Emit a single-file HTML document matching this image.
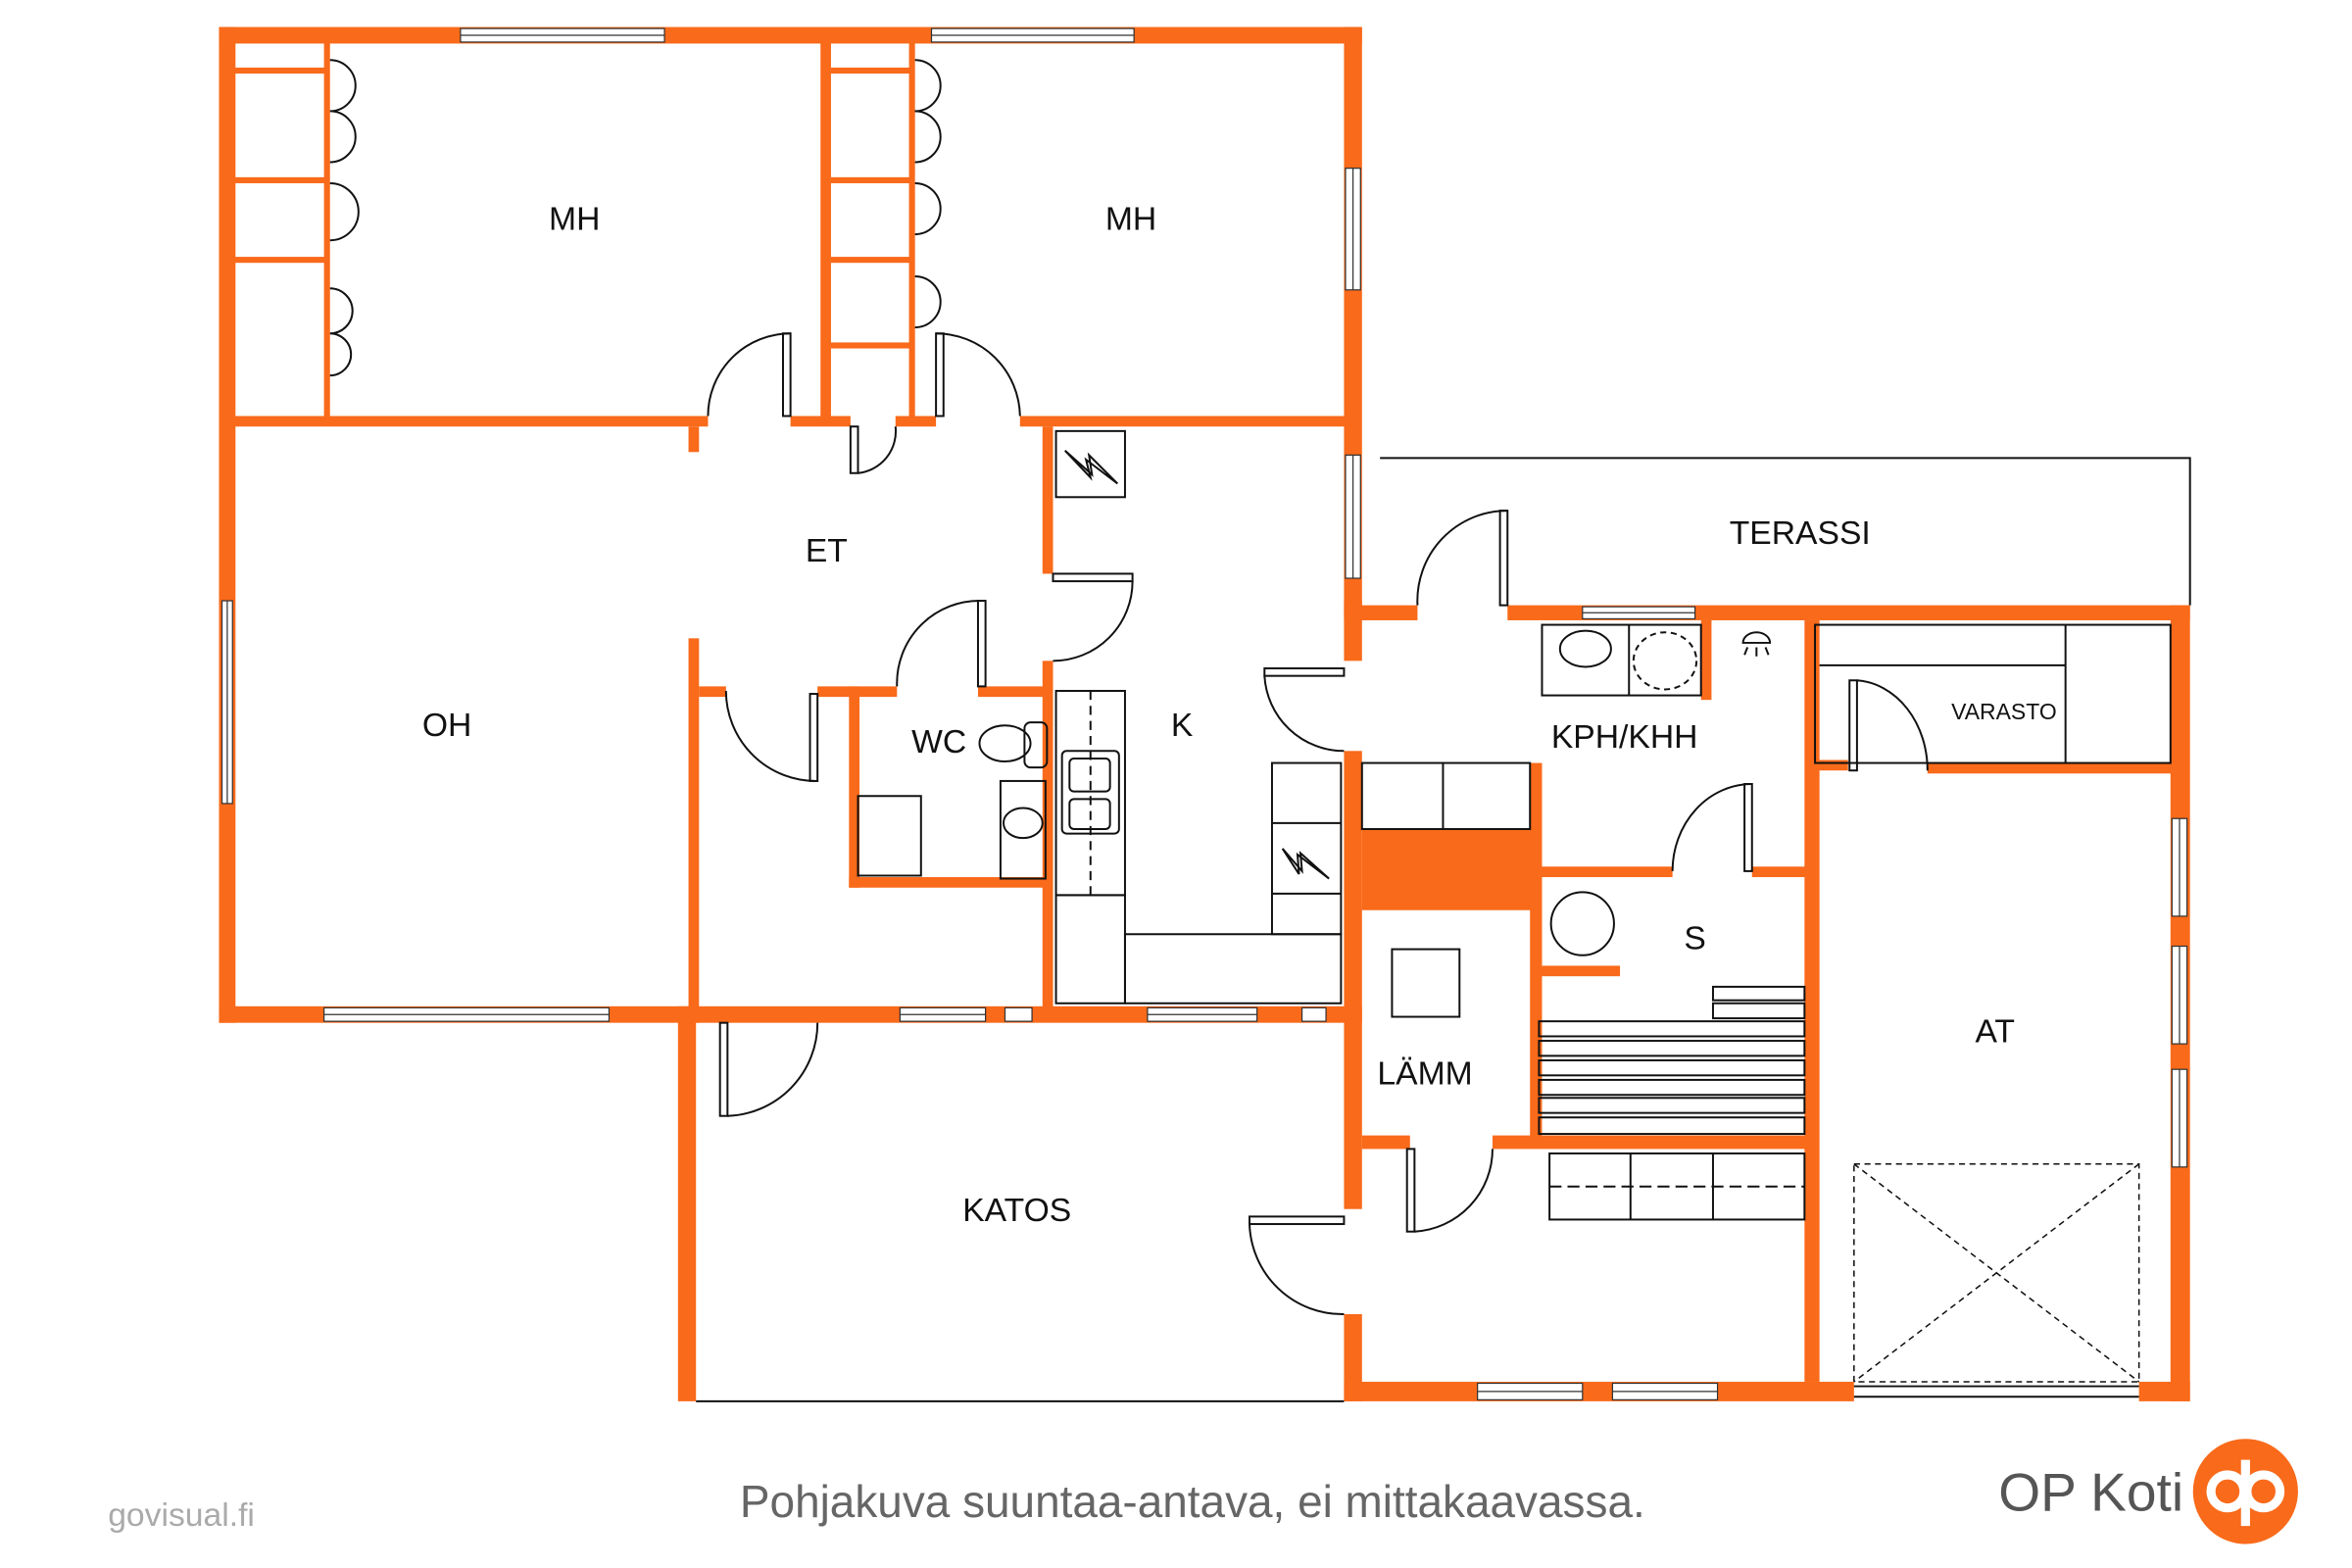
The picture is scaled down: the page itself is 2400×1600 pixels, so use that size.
<!DOCTYPE html>
<html><head><meta charset="utf-8"><style>
html,body{margin:0;padding:0;background:#fff}
svg{display:block}
text{font-family:"Liberation Sans","DejaVu Sans",sans-serif}
</style></head><body>
<svg width="2400" height="1600" viewBox="0 0 1568 1044" preserveAspectRatio="none" xmlns="http://www.w3.org/2000/svg">
<rect width="1568" height="1044" fill="#fff"/>
<g fill="#f96a1a">
<rect x="146" y="18" width="762" height="11"/>
<rect x="146" y="18" width="11" height="663"/>
<rect x="146" y="670" width="320" height="11"/>
<rect x="896" y="18" width="12" height="392"/>
<rect x="547" y="28" width="7" height="252"/>
<rect x="216" y="28" width="4" height="250"/>
<rect x="156" y="45" width="62" height="4"/>
<rect x="156" y="118" width="62" height="4"/>
<rect x="156" y="171" width="62" height="4"/>
<rect x="606" y="28" width="4" height="250"/>
<rect x="554" y="45" width="54" height="4"/>
<rect x="554" y="118" width="54" height="4"/>
<rect x="554" y="171" width="54" height="4"/>
<rect x="554" y="228" width="54" height="4"/>
<rect x="156" y="277" width="316" height="7"/>
<rect x="527" y="277" width="40" height="7"/>
<rect x="597" y="277" width="27" height="7"/>
<rect x="680" y="277" width="220" height="7"/>
<rect x="459" y="284" width="7" height="17"/>
<rect x="459" y="425" width="7" height="250"/>
<rect x="695" y="284" width="7" height="98"/>
<rect x="695" y="440" width="7" height="235"/>
<rect x="466" y="457" width="18" height="7"/>
<rect x="545" y="457" width="53" height="7"/>
<rect x="652" y="457" width="45" height="7"/>
<rect x="566" y="457" width="7" height="134"/>
<rect x="566" y="584" width="136" height="7"/>
<rect x="460" y="670" width="448" height="11"/>
<rect x="452" y="670" width="12" height="263"/>
<rect x="896" y="400" width="12" height="40"/>
<rect x="896" y="500" width="12" height="305"/>
<rect x="896" y="875" width="12" height="58"/>
<rect x="896" y="403" width="49" height="10"/>
<rect x="1005" y="403" width="455" height="10"/>
<rect x="1447" y="403" width="13" height="530"/>
<rect x="1203" y="413" width="10" height="507"/>
<rect x="896" y="920" width="340" height="13"/>
<rect x="1426" y="920" width="34" height="13"/>
<rect x="1285" y="508" width="165" height="7"/>
<rect x="1210" y="506" width="22" height="7"/>
<rect x="1134" y="413" width="7" height="53"/>
<rect x="908" y="552" width="119" height="54"/>
<rect x="1020" y="508" width="8" height="252"/>
<rect x="1028" y="577" width="87" height="7"/>
<rect x="1168" y="577" width="38" height="7"/>
<rect x="1028" y="643" width="52" height="7"/>
<rect x="908" y="756" width="32" height="9"/>
<rect x="995" y="756" width="210" height="9"/>
</g>
<g fill="#fff" stroke="#333" stroke-width="0.8">
<rect x="307" y="19" width="136" height="9"/><line x1="307" y1="23.5" x2="443" y2="23.5"/>
<rect x="621" y="19" width="135" height="9"/><line x1="621" y1="23.5" x2="756" y2="23.5"/>
<rect x="148" y="400" width="7" height="135"/><line x1="151.5" y1="400" x2="151.5" y2="535"/>
<rect x="216" y="671" width="190" height="9"/><line x1="216" y1="675.5" x2="406" y2="675.5"/>
<rect x="897" y="112" width="10" height="81"/><line x1="902" y1="112" x2="902" y2="193"/>
<rect x="897" y="303" width="10" height="82"/><line x1="902" y1="303" x2="902" y2="385"/>
<rect x="600" y="671" width="57" height="9"/><line x1="600" y1="675.5" x2="657" y2="675.5"/>
<rect x="670" y="671" width="18" height="9"/>
<rect x="765" y="671" width="73" height="9"/><line x1="765" y1="675.5" x2="838" y2="675.5"/>
<rect x="868" y="671" width="16" height="9"/>
<rect x="1055" y="404" width="75" height="8"/><line x1="1055" y1="408" x2="1130" y2="408"/>
<rect x="1448" y="545" width="10" height="65"/><line x1="1453" y1="545" x2="1453" y2="610"/>
<rect x="1448" y="630" width="10" height="65"/><line x1="1453" y1="630" x2="1453" y2="695"/>
<rect x="1448" y="712" width="10" height="65"/><line x1="1453" y1="712" x2="1453" y2="777"/>
<rect x="985" y="921" width="70" height="11"/><line x1="985" y1="926.5" x2="1055" y2="926.5"/>
<rect x="1075" y="921" width="70" height="11"/><line x1="1075" y1="926.5" x2="1145" y2="926.5"/>
</g>
<g fill="none" stroke="#111" stroke-width="1.3">
<path d="M920 305 H1460 V403"/>
<line x1="464" y1="933" x2="896" y2="933"/>
<path d="M220 40 A17 17 0 0 1 220 74 A17 17 0 0 1 220 108"/>
<path d="M220 122 A19 19 0 0 1 220 160"/>
<path d="M220 192 A15 15 0 0 1 220 222 A14 14 0 0 1 220 250"/>
<path d="M610 40 A17 17 0 0 1 610 74"/>
<path d="M610 74 A17 17 0 0 1 610 108"/>
<path d="M610 122 A17 17 0 0 1 610 156"/>
<path d="M610 184 A17 17 0 0 1 610 218"/>
<rect x="522" y="222" width="5" height="55"/><path d="M472 277 A55 55 0 0 1 527 222"/>
<rect x="624" y="222" width="5" height="55"/><path d="M624 222 A56 56 0 0 1 680 277"/>
<rect x="567" y="284" width="5" height="31"/><path d="M572 315 A28 28 0 0 0 597 284"/>
<rect x="702" y="382" width="53" height="5"/><path d="M755 387 A53 53 0 0 1 702 440"/>
<rect x="652" y="400" width="5" height="57"/><path d="M598 457 A55 55 0 0 1 654 400"/>
<rect x="540" y="462" width="5" height="58"/><path d="M484 460 A60 60 0 0 0 545 520"/>
<rect x="480" y="681" width="5" height="62"/><path d="M485 743 A62 62 0 0 0 545 681"/>
<rect x="843" y="445" width="53" height="5"/><path d="M843 450 A53 53 0 0 0 896 500"/>
<rect x="833" y="810" width="63" height="5"/><path d="M833 815 A62 62 0 0 0 896 875"/>
<rect x="1000" y="340" width="5" height="63"/><path d="M945 403 A60 60 0 0 1 1005 340"/>
<rect x="1233" y="453" width="5" height="60"/><path d="M1238 453 A50 60 0 0 1 1285 513"/>
<rect x="1163" y="522" width="5" height="58"/><path d="M1115 580 A53 58 0 0 1 1168 522"/>
<rect x="938" y="765" width="5" height="55"/><path d="M943 820 A55 55 0 0 0 995 765"/>
<rect x="704" y="287" width="46" height="44"/>
<path d="M710 300 L728 316 L726 303 L745 322 L724 306 L727 318 Z"/>
<rect x="704" y="460" width="46" height="136"/>
<line x1="727" y1="460" x2="727" y2="596" stroke-dasharray="6 4"/>
<rect x="708" y="500" width="38" height="55" rx="3"/>
<rect x="713" y="505" width="27" height="22" rx="3"/><rect x="713" y="532" width="27" height="20" rx="3"/>
<rect x="704" y="596" width="46" height="72"/>
<rect x="750" y="622" width="144" height="46"/>
<rect x="848" y="508" width="46" height="114"/>
<line x1="848" y1="548" x2="894" y2="548"/><line x1="848" y1="595" x2="894" y2="595"/>
<path d="M855 565 L868 580 L867 568 L886 585 L865 569 L866 582 Z"/>
<ellipse cx="670" cy="495" rx="17" ry="12"/><rect x="683" y="481" width="15" height="30" rx="4"/>
<rect x="667" y="520" width="30" height="65"/><ellipse cx="682" cy="548" rx="13" ry="10"/>
<rect x="572" y="530" width="42" height="53"/>
<rect x="1028" y="416" width="106" height="47"/><line x1="1086" y1="416" x2="1086" y2="463"/>
<ellipse cx="1057" cy="432" rx="17" ry="12"/>
<ellipse cx="1110" cy="440" rx="21" ry="19" stroke-dasharray="4 3"/>
<path d="M1162 428 A9 7 0 0 1 1180 428 Z M1165 431 L1163 436 M1171 431 V437 M1177 431 L1179 436"/>
<rect x="908" y="508" width="112" height="44"/><line x1="962" y1="508" x2="962" y2="552"/>
<rect x="928" y="632" width="45" height="45"/>
<circle cx="1055" cy="615" r="21"/>
<rect x="1142" y="657" width="61" height="9"/><rect x="1142" y="668" width="61" height="10"/>
<rect x="1026" y="680" width="177" height="10"/><rect x="1026" y="693" width="177" height="10"/>
<rect x="1026" y="706" width="177" height="10"/><rect x="1026" y="719" width="177" height="10"/>
<rect x="1026" y="731" width="177" height="10"/><rect x="1026" y="744" width="177" height="11"/>
<rect x="1033" y="768" width="170" height="44"/>
<line x1="1087" y1="768" x2="1087" y2="812"/><line x1="1142" y1="768" x2="1142" y2="812"/>
<line x1="1033" y1="790" x2="1203" y2="790" stroke-dasharray="8 4"/>
<rect x="1210" y="416" width="237" height="92"/>
<line x1="1377" y1="416" x2="1377" y2="508"/><line x1="1213" y1="443" x2="1377" y2="443"/>
<line x1="1236" y1="923" x2="1426" y2="923"/><line x1="1236" y1="930" x2="1426" y2="930"/>
<g stroke-dasharray="4 3" stroke-width="1">
<rect x="1236" y="775" width="190" height="145"/>
<line x1="1236" y1="775" x2="1426" y2="920"/><line x1="1426" y1="775" x2="1236" y2="920"/>
</g>
</g>
<g fill="#111" font-size="22" text-anchor="middle">
<text x="383" y="153">MH</text>
<text x="754" y="153">MH</text>
<text x="551" y="374">ET</text>
<text x="298" y="490">OH</text>
<text x="626" y="501">WC</text>
<text x="788" y="490">K</text>
<text x="1083" y="498">KPH/KHH</text>
<text x="1200" y="362">TERASSI</text>
<text x="1336" y="479" font-size="15">VARASTO</text>
<text x="1130" y="632">S</text>
<text x="1330" y="694">AT</text>
<text x="950" y="722">LÄMM</text>
<text x="678" y="813">KATOS</text>
</g>
<text x="795" y="1010" font-size="30" fill="#666" text-anchor="middle">Pohjakuva suuntaa-antava, ei mittakaavassa.</text>
<text x="72" y="1016" font-size="22" fill="#aaa">govisual.fi</text>
<text x="1394" y="1006" font-size="36" fill="#555" text-anchor="middle">OP Koti</text>
<circle cx="1497" cy="993" r="35" fill="#f96a1a"/>
<g fill="none" stroke="#fff" stroke-width="6">
<circle cx="1485" cy="993" r="11"/><circle cx="1509" cy="993" r="11"/>
<line x1="1497" y1="972" x2="1497" y2="1016"/>
</g>
</svg>
</body></html>
